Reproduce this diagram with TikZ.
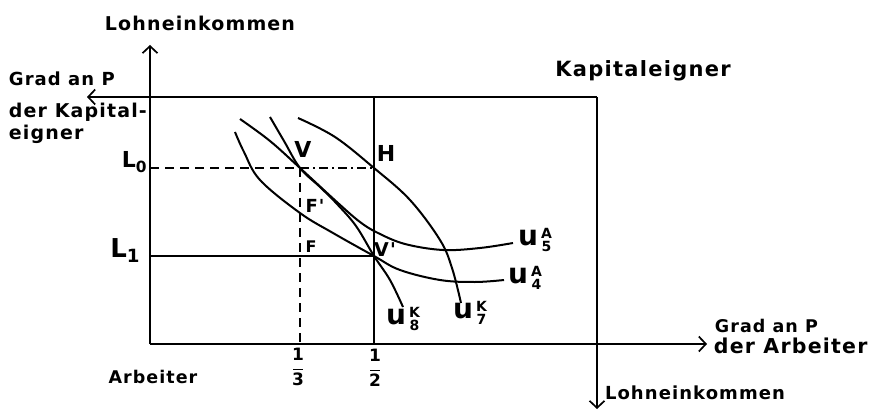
\documentclass[tikz,border=0pt]{standalone}
\usepackage{fontspec}
\newfontfamily\hand{DejaVu Sans Bold}[LetterSpace=6]
\usetikzlibrary{arrows.meta}
\newcommand\ulab[3]{#1\hspace{3pt}{\fontsize{14}{13}\selectfont\begin{tabular}[c]{@{}c@{}}#2\\[-1pt]#3\end{tabular}}}
\newcommand\hfrac[2]{{\fontsize{17}{13}\selectfont\begin{tabular}[c]{@{}c@{}}#1\\[-4pt]\rule{10pt}{1.4pt}\\[-1pt]#2\end{tabular}}}
\begin{document}
\begin{tikzpicture}[x=1pt,y=-1pt,line width=1.9pt,
  axis/.style={-{Straight Barb[length=7pt,width=15pt,line width=1.7pt]}},
  curve/.style={line width=2pt,smooth,tension=0.6},
  guide/.style={line width=1.4pt,dash pattern=on 9pt off 6pt},
  guidedot/.style={line width=1.4pt,dash pattern=on 9pt off 4pt on 2pt off 4pt},
  txt/.style={font=\hand\fontsize{#1}{#1}\selectfont,inner sep=0pt},
  ulabel/.style={font=\hand\fontsize{28}{28}\selectfont,inner sep=0pt}]
\useasboundingbox (0,0) rectangle (870,414);
% corners and axis ends
\coordinate (BL) at (150,344);
\coordinate (TL) at (150,97);
\coordinate (TR) at (597,97);
\coordinate (BR) at (597,344);
\coordinate (Ytip) at (150,45);
\coordinate (Ltip) at (87,97);
\coordinate (Rtip) at (707,344);
\coordinate (Dtip) at (597,409);
\coordinate (HT) at (374,97);
\coordinate (HB) at (374,344);
\coordinate (L0) at (150,168);
\coordinate (L1) at (150,256);
\coordinate (V) at (300,168);
\coordinate (H) at (374,168);
\coordinate (Vp) at (374,256);
\coordinate (TB) at (300,344);
% axes
\draw[axis] (BL) -- (Ytip);
\draw[axis] (TR) -- (Ltip);
\draw[axis] (BL) -- (Rtip);
\draw[axis] (TR) -- (Dtip);
\draw (HT) -- (HB);
\draw (L1) -- (Vp);
\draw[guide] (L0) -- (V);
\draw[guidedot] (V) -- (H);
\draw[guide] (V) -- (TB);
% curves
\draw[curve] plot coordinates {(240,119) (270,141) (300,168) (338,203) (360,222) (378,233) (405,244) (443,250) (480,248) (513,243)};
\draw[curve] plot coordinates {(235,132) (244,152) (260,180) (300,213) (333,233) (374,256) (400,270) (440,280) (475,282) (504,280)};
\draw[curve] plot coordinates {(270,117) (284,141) (300,168) (320,187) (337,204) (356,226) (374,256) (390,280) (403,307)};
\draw[curve] plot coordinates {(298,118) (335,137) (374,168) (410,200) (440,240) (452,268) (461,303)};
% point labels
\node[txt=22] (lV) at (303,149) {V};
\node[txt=22] (lH) at (386,153) {H};
\node[txt=18] (lFp) at (315,206) {F'};
\node[txt=16] (lF) at (311,247) {F};
\node[txt=19] (lVp) at (385,250) {V'};
% L labels
\node[txt=22,anchor=base east] (lL0) at (148,168) {L\textsubscript{0}};
\node[txt=26,anchor=base east] (lL1) at (141,258) {L\textsubscript{1}};
% fractions
\node[txt=17] (f3) at (298,369) {\hfrac{1}{3}};
\node[txt=17] (f2) at (375,370) {\hfrac{1}{2}};
% utility labels
\node[ulabel] (u8) at (403,321) {\ulab{u}{K}{8}};
\node[ulabel] (u7) at (470,315) {\ulab{u}{K}{7}};
\node[ulabel] (u4) at (525,280) {\ulab{u}{A}{4}};
\node[ulabel] (u5) at (535,242) {\ulab{u}{A}{5}};
% axis texts
\node[txt=19] (t1) at (200,23) {Lohneinkommen};
\node[txt=18,anchor=west] (t2) at (8,79) {Grad an P};
\node[txt=19,anchor=west] (t3) at (8,112) {der Kapital-};
\node[txt=19,anchor=west] (t4) at (8,134) {eigner};
\node[txt=21] (t5) at (643,71) {Kapitaleigner};
\node[txt=17.5,anchor=west] (t6) at (714,326) {Grad an P};
\node[txt=20.5,anchor=west] (t7) at (713,346) {der Arbeiter};
\node[txt=18] (t8) at (695,393) {Lohneinkommen};
\node[txt=17.5] (t9) at (153,377) {Arbeiter};
\end{tikzpicture}
\end{document}
